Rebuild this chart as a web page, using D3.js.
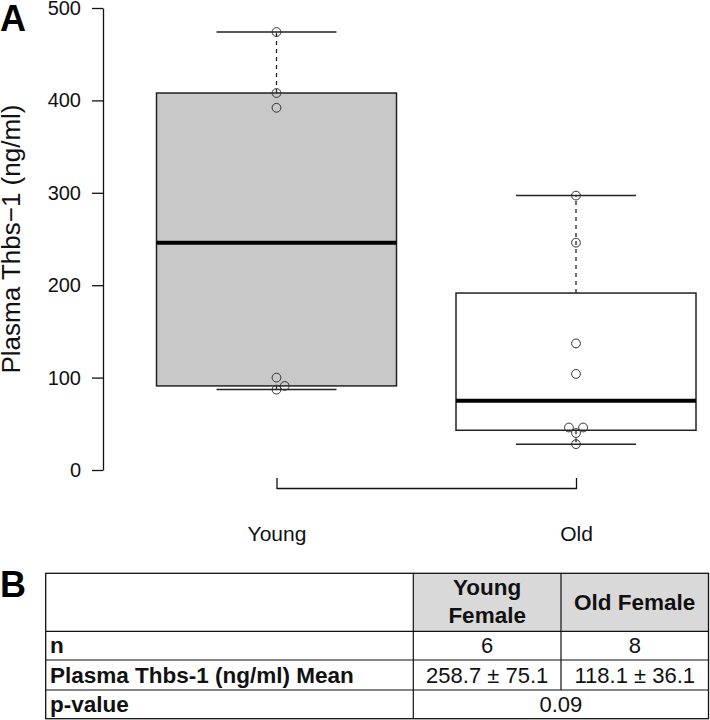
<!DOCTYPE html>
<html>
<head>
<meta charset="utf-8">
<script src="https://cdn.jsdelivr.net/npm/d3@7"></script>
<style>
  html, body { margin: 0; padding: 0; background: #fff; }
  svg { display: block; font-family: "Liberation Sans", Arial, Helvetica, sans-serif; }
</style>
</head>
<body>
<svg id="chart" width="710" height="720"></svg>
<script>
// ---------- data ----------
const groups = ["Young", "Old"];
const youngValues = [474, 408, 392, 100, 91, 87];
const oldValues = [297, 246, 137, 104, 46, 46, 40, 28];
const yTicks = [0, 100, 200, 300, 400, 500];
const yLabel = "Plasma Thbs\u22121 (ng/ml)";
const boxFills = ["#c8c8c8", "#ffffff"];

const tableColHeaders = [["Young", "Female"], ["Old Female"]];
const tableRowLabels = ["n", "Plasma Thbs-1 (ng/ml) Mean", "p-value"];
const nValues = ["6", "8"];
const meanValues = ["258.7 \u00b1 75.1", "118.1 \u00b1 36.1"];
const pValue = "0.09";

// ---------- helpers ----------
function fivenum(arr) {
  const s = arr.slice().sort((a, b) => a - b);
  const n = s.length;
  const n4 = Math.floor((n + 3) / 2) / 2;
  const d = [1, n4, (n + 1) / 2, n + 1 - n4, n];
  return d.map(v => 0.5 * (s[Math.floor(v) - 1] + s[Math.ceil(v) - 1]));
}

const svg = d3.select("#chart");

// ---------- scales ----------
const y = d3.scaleLinear().domain([0, 500]).range([470, 8]);
const x = d3.scalePoint().domain(groups).range([276.5, 576]).padding(0);
const halfBox = 120;

// ---------- axes ----------
const yAxis = svg.append("g")
  .attr("transform", "translate(103,0)")
  .call(d3.axisLeft(y).tickValues(yTicks).tickSizeInner(11).tickSizeOuter(0).tickPadding(11));
yAxis.selectAll("text").attr("font-size", 20).attr("fill", "#111").attr("font-family", "Liberation Sans, Arial, sans-serif");
yAxis.selectAll("line, path").attr("stroke", "#111").attr("stroke-width", 1.3);

const xAxis = svg.append("g")
  .attr("transform", "translate(0,489)")
  .call(d3.axisBottom(x).tickSizeInner(0).tickSizeOuter(11).tickPadding(37));
xAxis.select(".domain").attr("transform", "scale(1,-1)").attr("stroke", "#111").attr("stroke-width", 1.3);
xAxis.selectAll("text").attr("font-size", 21).attr("fill", "#111").attr("font-family", "Liberation Sans, Arial, sans-serif");

svg.append("text")
  .attr("transform", `translate(20,${(y(0) + y(500)) / 2}) rotate(-90)`)
  .attr("text-anchor", "middle")
  .attr("font-size", 26)
  .attr("fill", "#111")
  .text(yLabel);

// panel letters
svg.append("text").attr("x", 0).attr("y", 31).attr("font-size", 36).attr("font-weight", "bold").attr("fill", "#000").text("A");
svg.append("text").attr("x", 0).attr("y", 597).attr("font-size", 36).attr("font-weight", "bold").attr("fill", "#000").text("B");

// ---------- boxes ----------
const groupData = [youngValues, oldValues];
groupData.forEach((vals, i) => {
  const g = groups[i];
  const cx = x(g);
  const [mn, lh, med, uh, mx] = fivenum(vals);
  const gg = svg.append("g");
  // whiskers (dashed)
  gg.append("line").attr("x1", cx).attr("x2", cx).attr("y1", y(uh)).attr("y2", y(mx))
    .attr("stroke", "#222").attr("stroke-width", 1.3).attr("stroke-dasharray", "4,4");
  gg.append("line").attr("x1", cx).attr("x2", cx).attr("y1", y(lh)).attr("y2", y(mn))
    .attr("stroke", "#222").attr("stroke-width", 1.3).attr("stroke-dasharray", "4,4");
  // caps
  [mn, mx].forEach(v => {
    gg.append("line").attr("x1", cx - halfBox / 2).attr("x2", cx + halfBox / 2)
      .attr("y1", y(v)).attr("y2", y(v)).attr("stroke", "#222").attr("stroke-width", 1.5);
  });
  // box
  gg.append("rect").attr("x", cx - halfBox).attr("width", 2 * halfBox)
    .attr("y", y(uh)).attr("height", y(lh) - y(uh))
    .attr("fill", boxFills[i]).attr("stroke", "#222").attr("stroke-width", 1.5);
  // median
  gg.append("line").attr("x1", cx - halfBox).attr("x2", cx + halfBox)
    .attr("y1", y(med)).attr("y2", y(med)).attr("stroke", "#000").attr("stroke-width", 4);

  // swarm points
  const minDist = 9;
  const placed = [];
  vals.slice().sort((a, b) => a - b).forEach(v => {
    const py = y(v);
    let cands = [0];
    placed.forEach(p => {
      const dy = Math.abs(p.y - py);
      if (dy < minDist) {
        const dx = Math.sqrt(minDist * minDist - dy * dy);
        cands.push(p.x + dx, p.x - dx);
      }
    });
    cands = cands.filter(c => placed.every(p => Math.hypot(p.x - c, p.y - py) >= minDist - 1e-6));
    cands.sort((a, b) => Math.abs(a) - Math.abs(b) || b - a);
    const px = cands[0];
    placed.push({ x: px, y: py });
  });
  gg.selectAll("circle.pt").data(placed).join("circle")
    .attr("class", "pt")
    .attr("cx", d => cx + d.x).attr("cy", d => d.y).attr("r", 4.4)
    .attr("fill", "none").attr("stroke", "#333").attr("stroke-width", 1);
});

// ---------- table ----------
const colX = [45.7, 413.3, 561, 708.5];
const rowY = [573.3, 631.3, 660, 690, 718.7];
const tg = svg.append("g");
const fs = 22.5;
// header fills
tg.append("rect").attr("x", colX[1]).attr("y", rowY[0]).attr("width", colX[3] - colX[1]).attr("height", rowY[1] - rowY[0]).attr("fill", "#d9d9d9");
// outer border
tg.append("rect").attr("x", colX[0]).attr("y", rowY[0]).attr("width", colX[3] - colX[0]).attr("height", rowY[4] - rowY[0])
  .attr("fill", "none").attr("stroke", "#111").attr("stroke-width", 1.3);
// horizontal lines
rowY.slice(1, 4).forEach(yy => {
  tg.append("line").attr("x1", colX[0]).attr("x2", colX[3]).attr("y1", yy).attr("y2", yy).attr("stroke", "#111").attr("stroke-width", 1.2);
});
// vertical lines
tg.append("line").attr("x1", colX[1]).attr("x2", colX[1]).attr("y1", rowY[0]).attr("y2", rowY[4]).attr("stroke", "#111").attr("stroke-width", 1.2);
tg.append("line").attr("x1", colX[2]).attr("x2", colX[2]).attr("y1", rowY[0]).attr("y2", rowY[3]).attr("stroke", "#111").attr("stroke-width", 1.2);

// header texts
const c1 = (colX[1] + colX[2]) / 2, c2 = (colX[2] + colX[3]) / 2;
tableColHeaders[0].forEach((t, k) => {
  tg.append("text").attr("x", c1).attr("y", 595 + k * 28.3).attr("text-anchor", "middle")
    .attr("font-size", fs).attr("font-weight", "bold").attr("fill", "#111").text(t);
});
tg.append("text").attr("x", c2).attr("y", 609.5).attr("text-anchor", "middle")
  .attr("font-size", fs).attr("font-weight", "bold").attr("fill", "#111").text(tableColHeaders[1][0]);

// row labels
const baselines = [653.3, 682.7, 711.8];
tableRowLabels.forEach((t, k) => {
  tg.append("text").attr("x", 50).attr("y", baselines[k]).attr("font-size", fs)
    .attr("font-weight", "bold").attr("fill", "#111").text(t);
});
// values
[nValues, meanValues].forEach((arr, k) => {
  arr.forEach((t, j) => {
    tg.append("text").attr("x", j === 0 ? c1 : c2).attr("y", baselines[k]).attr("text-anchor", "middle")
      .attr("font-size", 22).attr("fill", "#111").text(t);
  });
});
tg.append("text").attr("x", (colX[1] + colX[3]) / 2).attr("y", baselines[2]).attr("text-anchor", "middle")
  .attr("font-size", 22).attr("fill", "#111").text(pValue);
</script>
</body>
</html>
